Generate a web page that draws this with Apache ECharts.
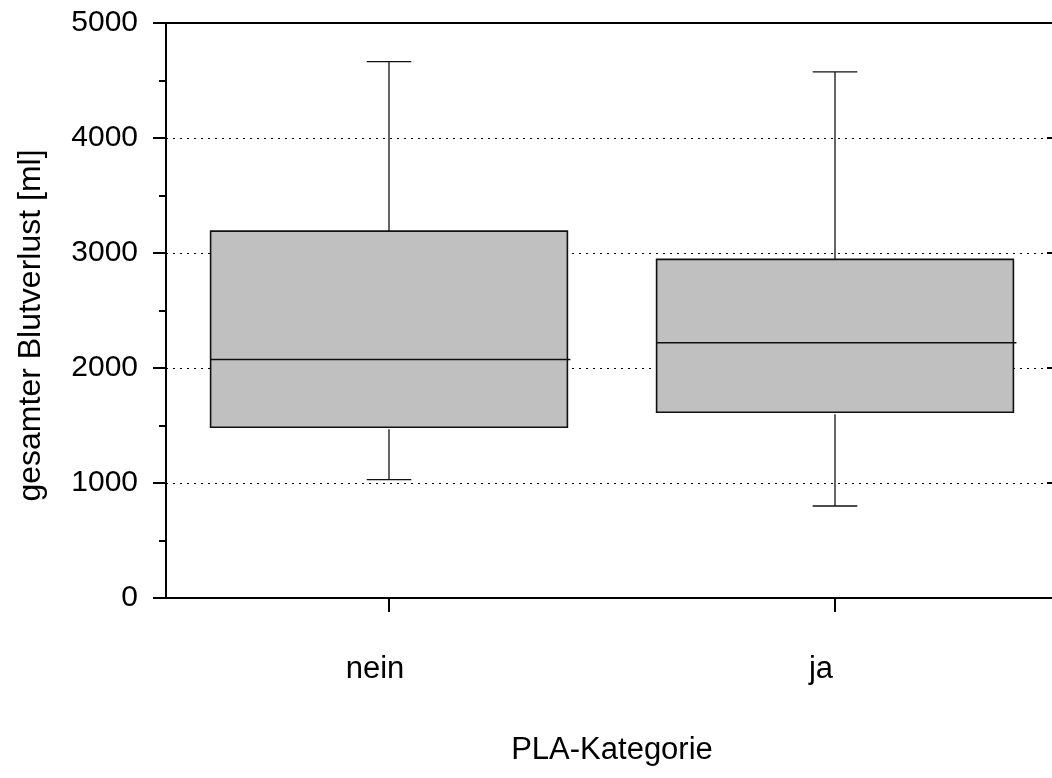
<!DOCTYPE html>
<html>
<head>
<meta charset="utf-8">
<script src="https://cdn.jsdelivr.net/npm/echarts@6/dist/echarts.min.js"></script>
<style>
  html, body { margin: 0; padding: 0; background: #fff; }
  #main { width: 1052px; height: 778px; }
</style>
</head>
<body>
<div id="main"></div>
<script>
// Blutverlust nach PLA-Kategorie
var categories = ['nein', 'ja'];
var whiskerLow = [1030, 800];
var q1 = [1485, 1615];
var median = [2075, 2220];
var q3 = [3190, 2945];
var whiskerHigh = [4665, 4575];
var yTicks = [0, 1000, 2000, 3000, 4000, 5000];

var boxData = categories.map(function (c, i) {
  return [i, whiskerLow[i], q1[i], median[i], q3[i], whiskerHigh[i]];
});

var font = 'Liberation Sans, Arial, Helvetica, sans-serif';
var myChart = echarts.init(document.getElementById('main'));

function renderBox(params, api) {
  var x = api.value(0);
  var band = api.size([1, 0])[0];
  var half = band * 0.4;
  var cap = band * 0.05;
  var pLow = api.coord([x, api.value(1)]);
  var pQ1 = api.coord([x, api.value(2)]);
  var pMed = api.coord([x, api.value(3)]);
  var pQ3 = api.coord([x, api.value(4)]);
  var pHigh = api.coord([x, api.value(5)]);
  var cx = pMed[0];
  var wStyle = { stroke: '#111', lineWidth: 1.3 };
  return {
    type: 'group',
    children: [
      { type: 'line', shape: { x1: cx, y1: pQ3[1], x2: cx, y2: pHigh[1] }, style: wStyle },
      { type: 'line', shape: { x1: cx - cap, y1: pHigh[1], x2: cx + cap, y2: pHigh[1] }, style: wStyle },
      { type: 'line', shape: { x1: cx, y1: pQ1[1] + 2, x2: cx, y2: pLow[1] }, style: wStyle },
      { type: 'line', shape: { x1: cx - cap, y1: pLow[1], x2: cx + cap, y2: pLow[1] }, style: wStyle },
      {
        type: 'rect',
        shape: { x: cx - half, y: pQ3[1], width: half * 2, height: pQ1[1] - pQ3[1] },
        style: { fill: '#c0c0c0', stroke: '#111', lineWidth: 1.6 }
      },
      { type: 'line', shape: { x1: cx - half, y1: pMed[1], x2: cx + half + 3, y2: pMed[1] }, style: { stroke: '#111', lineWidth: 1.5 } }
    ]
  };
}

var option = {
  backgroundColor: '#fff',
  animation: false,
  grid: { left: 166, top: 23, width: 892, height: 575, containLabel: false, outerBoundsMode: 'none' },
  xAxis: [
    {
      type: 'category',
      data: categories,
      name: 'PLA-Kategorie',
      nameLocation: 'middle',
      nameGap: 137,
      nameTextStyle: { fontSize: 31, color: '#000', fontFamily: font },
      axisLine: { show: true, lineStyle: { color: '#000', width: 2 } },
      axisTick: { show: true, alignWithLabel: true, length: 14, lineStyle: { color: '#000', width: 2 } },
      axisLabel: { margin: 56, fontSize: 31, color: '#000', fontFamily: font, padding: [0, 28, 0, 0] },
      splitLine: { show: false }
    },
    {
      type: 'category',
      data: categories,
      position: 'top',
      axisLine: { show: true, onZero: false, lineStyle: { color: '#000', width: 2 } },
      axisTick: { show: false },
      axisLabel: { show: false },
      splitLine: { show: false }
    }
  ],
  yAxis: [
    {
      type: 'value',
      min: 0,
      max: 5000,
      interval: 1000,
      name: 'gesamter Blutverlust [ml]',
      nameLocation: 'middle',
      nameGap: 119,
      nameTextStyle: { fontSize: 32, color: '#000', fontFamily: font, padding: [0, 30, 0, 0] },
      axisLine: { show: true, lineStyle: { color: '#000', width: 2 } },
      axisTick: { show: true, length: 13, lineStyle: { color: '#000', width: 2 } },
      minorTick: { show: true, splitNumber: 2, length: 7, lineStyle: { color: '#000', width: 2 } },
      axisLabel: {
        margin: 28, fontSize: 30, color: '#000', fontFamily: font,
        formatter: function (v) { return yTicks.indexOf(v) >= 0 ? String(v) : ''; }
      },
      splitLine: {
        show: true,
        lineStyle: { color: '#000', width: 1.2, type: [2, 5] }
      }
    },
    {
      type: 'value',
      min: 0,
      max: 5000,
      interval: 1000,
      position: 'right',
      axisLine: { show: false },
      axisTick: { show: true, inside: true, length: 11, lineStyle: { color: '#000', width: 2 } },
      axisLabel: { show: false },
      splitLine: { show: false }
    }
  ],
  series: [
    {
      type: 'custom',
      renderItem: renderBox,
      encode: { x: 0, y: [1, 2, 3, 4, 5] },
      data: boxData,
      z: 3
    }
  ]
};

myChart.setOption(option);
</script>
</body>
</html>
